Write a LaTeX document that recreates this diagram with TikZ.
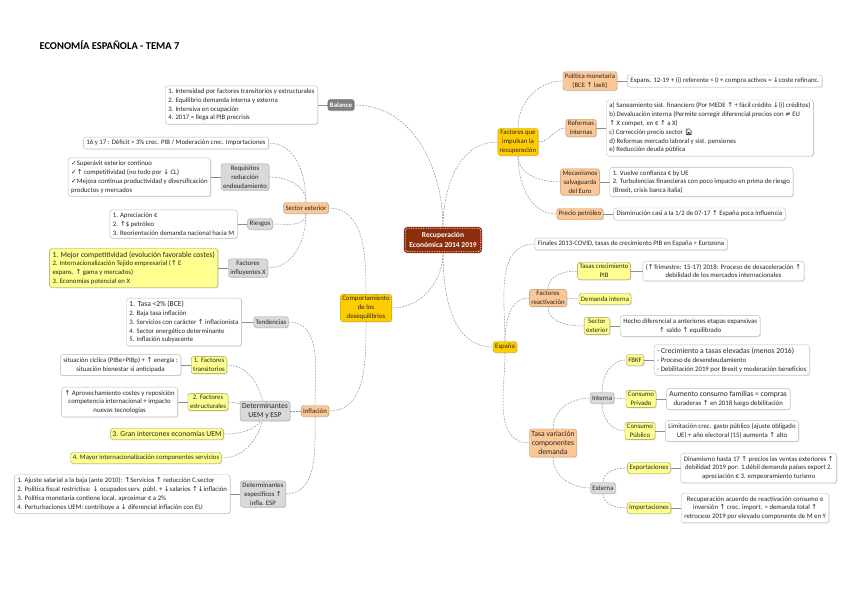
\documentclass[tikz,border=0pt]{standalone}
\usepackage{fontspec}
\setmainfont{Carlito}
\newfontfamily\symfont{DejaVu Sans}
\newfontfamily\emojifont{Noto Emoji}
\usetikzlibrary{positioning, shadows, backgrounds, calc}
\definecolor{cbrown}{RGB}{140,45,12}
\definecolor{cgold}{RGB}{255,204,0}
\definecolor{corange}{RGB}{251,199,150}
\definecolor{cyellow}{RGB}{255,255,143}
\definecolor{cgray}{RGB}{217,217,217}
\definecolor{cdark}{RGB}{128,128,128}
\definecolor{cline}{RGB}{140,140,140}
\newcommand\arup{{\symfont ↑}}
\newcommand\ardn{{\symfont ↓}}
\newcommand\chk{{\symfont ✓}}
\newcommand\neqs{{\symfont ≠}}
\newcommand\smallfs{\fontsize{6.8}{8.8}\selectfont}
\newcommand\bigfs{\fontsize{7.6}{9.4}\selectfont}

\begin{document}
\begin{tikzpicture}[
  x=1pt, y=-1pt,
  node distance=10pt,
  every node/.style={font=\smallfs, text=black!85},
  box/.style={rectangle, rounded corners=2.5pt, draw, align=center, inner sep=2pt,
    minimum height=11pt, drop shadow={opacity=0.25, shadow xshift=0.8pt, shadow yshift=-0.8pt}},
  leaf/.style={box, fill=white, draw=gray!55, align=left, inner sep=3pt},
  leafc/.style={leaf, align=center},
  yleaf/.style={leaf, fill=cyellow, draw=cyellow!60!black},
  root/.style={box, fill=cbrown, draw=white, densely dotted, line width=0.7pt, text=white,
    font=\bfseries\fontsize{7.5}{10}\selectfont, inner sep=4pt,
    preaction={draw=cbrown, line width=3pt, solid}},
  darkbox/.style={box, fill=cdark, draw=cdark!80!black, text=white, font=\bfseries\smallfs},
  goldbox/.style={box, fill=cgold, draw=cgold!80!black},
  orangebox/.style={box, fill=corange, draw=corange!75!black},
  yellowbox/.style={box, fill=cyellow, draw=cyellow!60!black},
  greybox/.style={box, fill=cgray, draw=gray!70},
  link/.style={cline, line width=0.5pt, dash pattern=on 1.8pt off 1.2pt},
  stem/.style={cline, line width=0.5pt},
]
\useasboundingbox (0,0) rectangle (848,599);

%% Title
\node[anchor=west, font=\bfseries\fontsize{10.5}{12}\selectfont, text=black] (title) at (36,45) {ECONOMÍA ESPAÑOLA - TEMA 7};

%% Centre
\node[root] (root) at (443,240) {Recuperación\\Económica 2014 2019};

%% Main branches
\node[darkbox] (balance) at (341,105) {Balance};
\node[goldbox] (impul) at (518,142) {Factores que\\impulsan la\\recuperación};
\node[goldbox] (desq) at (366,308) {Comportamiento\\de los\\desequilibrios};
\node[goldbox] (espana) at (505,347) {España};

%% Balance
\node[leaf, left=of balance] (l1) {1. Intensidad por factores transitorios y estructurales\\2. Equilibrio demanda interna y externa\\3. Intensiva en ocupación\\4. 2017 = llega al PIB precrisis};

%% Desequilibrios -- sector exterior
\node[orangebox] (sectext) at (306,208) {Sector exterior};
\node[leaf] (l2) at (176,143) {16 y 17 : Déficit > 3\% crec. PIB / Moderación crec. Importaciones};
\node[greybox] (req) at (245,177) {Requisitos\\reducción\\endeudamiento};
\node[leaf, left=of req] (l3) {\chk Superávit exterior continuo\\\chk\arup\ competitividad (no todo por \ardn\ CL)\\\chk Mejora continua productividad y diversificación\\productos y mercados};
\node[greybox] (ries) at (260,224) {Riesgos};
\node[leaf, left=of ries] (l4) {1. Apreciación €\\2. \arup\$ petróleo\\3. Reorientación demanda nacional hacia M};
\node[greybox] (fx) at (248,268) {Factores\\influyentes X};
\node[yleaf, left=of fx] (l5) {{\bigfs 1. Mejor competitividad (evolución favorable costes)}\\2. Internacionalización Tejido empresarial (\arup\ E\\expans. \arup\ gama y mercados)\\3. Economías potencial en X};

%% Desequilibrios -- inflacion
\node[orangebox] (infl) at (315,411) {Inflación};
\node[greybox] (tend) at (271,322) {Tendencias};
\node[leaf, left=12pt of tend] (l6) {{\bigfs 1. Tasa <2\% (BCE)}\\2. Baja tasa inflación\\3. Servicios con carácter \arup\ inflacionista\\4. Sector energético determinante\\5. Inflación subyacente};
\node[greybox, font=\bigfs] (detuem) at (265,411) {Determinantes\\UEM y ESP};
\node[yellowbox] (fac1) at (209,365) {1. Factores\\transitorios};
\node[leafc, left=of fac1] (l7) {situación cíclica (PIBe>PIBp) + \arup\ energía ;\\situación bienestar si anticipada};
\node[yellowbox] (fac2) at (208,402) {2. Factores\\estructurales};
\node[leafc, left=of fac2] (l8) {\arup\ Aprovechamiento costes y reposición\\competencia internacional + impacto\\nuevas tecnologías};
\node[yellowbox, font=\bigfs] (fac3) at (167,434) {3. Gran interconex economías UEM};
\node[yellowbox] (fac4) at (146,458) {4. Mayor internacionalización componentes servicios};
\node[greybox] (detesp) at (263,494) {Determinantes\\específicos \arup\\infla. ESP};
\node[leaf, left=of detesp] (l9) {1. Ajuste salarial a la baja (ante 2010): \arup Servicios \arup\ reducción C.sector\\2. Política fiscal restrictiva: \ardn\ ocupados serv. públ. + \ardn salarios \arup\ardn inflación\\3. Política monetaria contiene local. aproximar € a 2\%\\4. Perturbaciones UEM: contribuye a \ardn\ diferencial inflación con EU};

%% Factores que impulsan la recuperacion
\node[orangebox] (pm) at (590,81) {Política monetaria\\(BCE \arup\ laxit)};
\node[leaf, right=of pm] (r1) {Expans. 12-19 + (i) referente < 0 + compra activos = \ardn coste refinanc.};
\node[orangebox] (ref) at (581,128) {Reformas\\internas};
\node[leaf, right=of ref] (r2) {a) Saneamiento sist. financiero (Por MEDE \arup\ + fácil crédito \ardn(i) créditos)\\b) Devaluación interna (Permite corregir diferencial precios con \neqs\ EU\\\arup\ X compet. en € \arup\ a X)\\c) Corrección precio sector {\emojifont 🏠}\\d) Reformas mercado laboral y sist. pensiones\\e) Reducción deuda pública};
\node[orangebox] (mec) at (580,182) {Mecanismos\\salvaguarda\\del Euro};
\node[leaf, right=of mec] (r3) {1. Vuelve confianza € by UE\\2. Turbulencias financieras con poco impacto en prima de riesgo\\(Brexit, crisis banca italia)};
\node[orangebox] (pet) at (580,214) {Precio petróleo};
\node[leaf, right=of pet] (r4) {Disminución casi a la 1/2 de 07-17 \arup\ España poca influencia};

%% Espana
\node[leaf] (r5) at (631,244) {Finales 2013-COVID, tasas de crecimiento PIB en España > Eurozona};
\node[orangebox] (freac) at (548,298) {Factores\\reactivación};
\node[yellowbox] (tpib) at (604,271) {Tasas crecimiento\\PIB};
\node[leafc, right=12pt of tpib] (r6) {(\arup Trimestre: 15-17) 2018: Proceso de desaceleración \arup\\debilidad de los mercados internacionales};
\node[yellowbox] (dint) at (605,299) {Demanda interna};
\node[yellowbox] (sext2) at (597,326) {Sector\\exterior};
\node[leafc, right=of sext2] (r7) {Hecho diferencial a anteriores etapas expansivas\\\arup\ saldo \arup\ equilibrado};
\node[orangebox, font=\bigfs] (tvar) at (553,443) {Tasa variación\\componentes\\demanda};
\node[greybox] (int) at (602,398) {Interna};
\node[yellowbox] (fbkf) at (635,360) {FBKF};
\node[leaf, right=of fbkf] (r8) {{\bigfs - Crecimiento a tasas elevadas (menos 2016)}\\- Proceso de desendeudamiento\\- Debilitación 2019 por Brexit y moderación beneficios};
\node[yellowbox] (cpriv) at (641,399) {Consumo\\Privado};
\node[leafc, right=of cpriv] (r9) {{\bigfs Aumento consumo familias = compras}\\duraderas \arup\ en 2018 luego debilitación};
\node[yellowbox] (cpub) at (640,431) {Consumo\\Público};
\node[leafc, right=of cpub] (r10) {Limitación crec. gasto público (ajuste obligado\\UE) + año electoral (15) aumenta \arup\ alto};
\node[greybox] (ext) at (603,488) {Externa};
\node[yellowbox] (expo) at (649,468) {Exportaciones};
\node[leafc, right=of expo] (r11) {Dinamismo hasta 17 \arup\ precios las ventas exteriores \arup\\debilidad 2019 por: 1.débil demanda países export 2.\\apreciación € 3. empeoramiento turismo};
\node[yellowbox] (impo) at (649,508) {Importaciones};
\node[leafc, right=of impo] (r12) {Recuperación acuerdo de reactivación consumo e\\inversión \arup\ crec. import. > demanda total \arup\\retroceso 2019 por elevado componente de M en Y};

%% Connectors
\begin{scope}[on background layer]
\draw[link] (root.north) to[out=90,in=0] (balance.east);
\draw[link] (root.north) to[out=90,in=180] (impul.west);
\draw[link] (root.south) to[out=-90,in=0] (desq.east);
\draw[link] (root.south) to[out=-90,in=180] (espana.west);

\draw[link] (desq.north) to[out=90,in=0] (sectext.east);
\draw[link] (desq.south) to[out=-90,in=0] (infl.east);
\draw[link] (sectext.north) to[out=90,in=0] (l2.east);
\draw[link] (sectext.north) to[out=90,in=0] (req.east);
\draw[link] (sectext.south) to[out=-90,in=0] (ries.east);
\draw[link] (sectext.south) to[out=-90,in=0] (fx.east);

\draw[link] (infl.north) to[out=90,in=0] (tend.east);
\draw[link] (infl.west) -- (detuem.east);
\draw[link] (infl.south) to[out=-90,in=0] (detesp.east);
\draw[link] (detuem.center) to[out=100,in=0] (fac1.east);
\draw[link] (detuem.center) to[out=180,in=0] (fac2.east);
\draw[link] (detuem.center) to[out=-100,in=0] (fac3.east);
\draw[link] (detuem.center) to[out=-100,in=0] (fac4.east);

\draw[link] (impul.north) to[out=90,in=180] (pm.west);
\draw[link] (impul.east) to[out=0,in=180] (ref.west);
\draw[link] (impul.south) to[out=-90,in=180] (mec.west);
\draw[link] (impul.south) to[out=-90,in=180] (pet.west);

\draw[link] (espana.north) to[out=90,in=180] (r5.west);
\draw[link] (espana.north) to[out=90,in=180] (freac.west);
\draw[link] (espana.south) to[out=-90,in=180] (tvar.west);
\draw[link] (freac.north) to[out=90,in=180] (tpib.west);
\draw[link] (freac.east) -- (dint.west);
\draw[link] (freac.south) to[out=-90,in=180] (sext2.west);
\draw[link] (tvar.north) to[out=90,in=180] (int.west);
\draw[link] (tvar.south) to[out=-90,in=180] (ext.west);
\draw[link] (int.north) to[out=90,in=180] (fbkf.west);
\draw[link] (int.east) -- (cpriv.west);
\draw[link] (int.south) to[out=-90,in=180] (cpub.west);
\draw[link] (ext.north) to[out=90,in=180] (expo.west);
\draw[link] (ext.south) to[out=-90,in=180] (impo.west);

%% Leaf stems
\draw[stem] (balance.west) -- (l1.east);
\draw[stem] (req.west) -- (l3.east);
\draw[stem] (ries.west) -- (l4.east);
\draw[stem] (fx.west) -- (l5.east);
\draw[stem] (tend.west) -- (l6.east);
\draw[stem] (fac1.west) -- (l7.east);
\draw[stem] (fac2.west) -- (l8.east);
\draw[stem] (detesp.west) -- (l9.east);
\draw[stem] (pm.east) -- (r1.west);
\draw[stem] (ref.east) -- (r2.west);
\draw[stem] (mec.east) -- (r3.west);
\draw[stem] (pet.east) -- (r4.west);
\draw[stem] (tpib.east) -- (r6.west);
\draw[stem] (sext2.east) -- (r7.west);
\draw[stem] (fbkf.east) -- (r8.west);
\draw[stem] (cpriv.east) -- (r9.west);
\draw[stem] (cpub.east) -- (r10.west);
\draw[stem] (expo.east) -- (r11.west);
\draw[stem] (impo.east) -- (r12.west);
\end{scope}

\end{tikzpicture}
\end{document}
